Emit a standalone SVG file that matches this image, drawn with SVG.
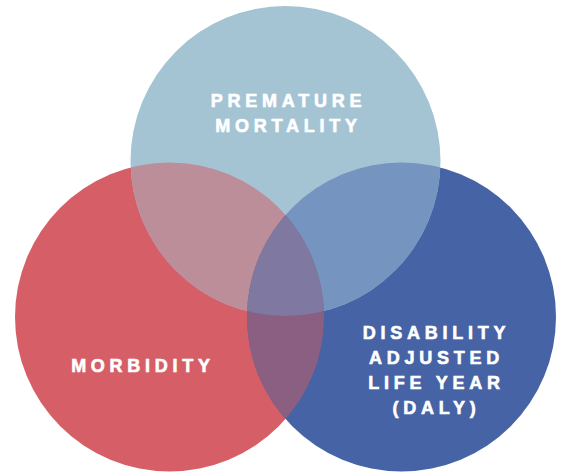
<svg xmlns="http://www.w3.org/2000/svg" width="562" height="474" viewBox="0 0 562 474">
<style>
.lbl{font-family:"Liberation Sans",Arial,sans-serif;font-weight:bold;font-size:18px;letter-spacing:4.75px;fill:#ffffff;stroke:#ffffff;stroke-width:0.6px;text-anchor:middle}
</style>
<defs>
<clipPath id="cT"><circle cx="285.5" cy="161" r="155"/></clipPath>
<clipPath id="cL"><circle cx="169.5" cy="317" r="154.5"/></clipPath>
<clipPath id="cR"><circle cx="401.5" cy="317" r="154.5"/></clipPath>
</defs>
<rect width="562" height="474" fill="#ffffff"/>
<g id="morbidity">
<circle cx="169.5" cy="317" r="154.5" fill="#d65f67"/>
</g>
<g id="daly">
<circle cx="401.5" cy="317" r="154.5" fill="#4563a5"/>
</g>
<g id="premature-mortality">
<circle cx="285.5" cy="161" r="155" fill="#a4c4d4"/>
</g>
<g id="overlaps">
<circle cx="169.5" cy="317" r="154.5" fill="#bc8e9a" clip-path="url(#cT)"/>
<circle cx="401.5" cy="317" r="154.5" fill="#7594bf" clip-path="url(#cT)"/>
<circle cx="401.5" cy="317" r="154.5" fill="#8b5f82" clip-path="url(#cL)"/>
<g clip-path="url(#cT)"><circle cx="401.5" cy="317" r="154.5" fill="#7f78a0" clip-path="url(#cL)"/></g>
</g>
<g id="labels">
<text class="lbl" x="288.5" y="107">PREMATURE</text>
<text class="lbl" x="288.5" y="132">MORTALITY</text>
<text class="lbl" x="143" y="372">MORBIDITY</text>
<text class="lbl" x="436.5" y="339">DISABILITY</text>
<text class="lbl" x="436.5" y="364">ADJUSTED</text>
<text class="lbl" x="436.5" y="389">LIFE YEAR</text>
<text class="lbl" x="436.5" y="414">(DALY)</text>
</g>
</svg>
